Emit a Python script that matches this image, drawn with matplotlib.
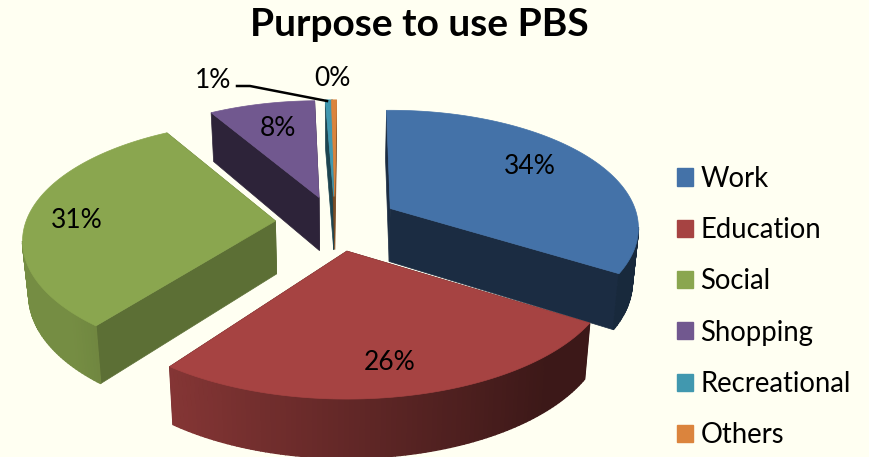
'''
Purpose to use PBS - exploded 3D style pie
'''
import numpy as np
import matplotlib
matplotlib.use('Agg')
import matplotlib.pyplot as plt
from matplotlib.patches import Patch

title = 'Purpose to use PBS'
categories = ['Work', 'Education', 'Social', 'Shopping', 'Recreational', 'Others']
shares = [33.95, 25.9, 30.9, 8.2, 0.55, 0.4]
colors = ['#4472a8', '#a64342', '#8aa64f', '#71588f', '#4198af', '#db843d']

# projection settings, in pixels
CX, CY = 335, 223
RX, RY = 250, 117
PERSP = 0.17
DEPTH = 53
BOTTOM_SCALE = 0.98
BG = '#fffff2'

# how far each slice is pulled out of the pie
explode = [0.255, 0.235, 0.235, 0.235, 0.235, 0.235]
# brightness of the flat side walls per slice
side_shade = [0.39, 0.37, 0.67, 0.40, 0.45, 0.55]
# small turn per slice (degrees), the 3D view bends the slices a bit
turn = [-1, 0, 3, 2.2, 1.1, 0.5]
# slices go back to front
draw_order = [3, 4, 5, 2, 0, 1]
label_pos = [(530, 167), (390, 363), (77, 221), (278, 128), (213, 81), (332, 79)]


def project(u, v, shift=0.0):
    # shift moves the point where perspective is measured, used for exploded slices
    s = 1 / (1 + PERSP * (v + shift))
    return RX * u * s, -RY * v * s


def drop(x, y, v):
    # bottom face point under a top face point
    s = 1 / (1 + PERSP * v)
    return CX + (x - CX) * BOTTOM_SCALE, y + DEPTH * s ** 0.6


def shade(color, f):
    return tuple(c * f for c in matplotlib.colors.to_rgb(color))


def wall_shade(theta):
    return float(np.clip(0.8 - (np.sin(theta) + 0.588) * 0.35, 0.36, 0.85))


def draw_slice(ax, start, end, color, side, pull):
    mid = (start + end) / 2
    eu, ev = pull * np.sin(mid), pull * np.cos(mid)
    ex, ey = project(eu, ev)
    ax_x, ax_y = CX + ex * 1.02, CY + ey

    thetas = np.linspace(start, end, max(3, int((end - start) * 60)))
    rim = []
    for t in thetas:
        dx, dy = project(np.sin(t), np.cos(t), ev)
        rim.append((ax_x + dx, ax_y + dy, np.cos(t)))

    # the two flat walls
    for x, y, v in (rim[0], rim[-1]):
        bx0, by0 = drop(ax_x, ax_y, 0)
        bx1, by1 = drop(x, y, v)
        ax.fill([ax_x, x, bx1, bx0], [ax_y, y, by1, by0],
                color=shade(color, side), lw=0.5, zorder=1)

    # outer curved wall, only where it faces the viewer
    for i in range(len(rim) - 1):
        x0, y0, v0 = rim[i]
        x1, y1, v1 = rim[i + 1]
        if x1 >= x0:
            continue
        bx0, by0 = drop(x0, y0, v0)
        bx1, by1 = drop(x1, y1, v1)
        f = wall_shade((thetas[i] + thetas[i + 1]) / 2)
        c = shade(color, f)
        ax.fill([x0, x1, bx1, bx0], [y0, y1, by1, by0], color=c, lw=1.0, zorder=1)

    # top face
    xs = [ax_x] + [p[0] for p in rim]
    ys = [ax_y] + [p[1] for p in rim]
    ax.fill(xs, ys, color=color, lw=0.5, zorder=2)


fig = plt.figure(figsize=(8.69, 4.57), dpi=100, facecolor=BG)
ax = fig.add_axes([0, 0, 1, 1])
ax.set_xlim(0, 869)
ax.set_ylim(457, 0)
ax.axis('off')

plt.rcParams['font.family'] = ['Lato', 'DejaVu Sans']

# angles of every slice, clockwise from twelve o'clock
total = sum(shares)
edges = 2 * np.pi * np.cumsum([0] + shares) / total

for i in draw_order:
    r = np.radians(turn[i])
    draw_slice(ax, edges[i] + r, edges[i + 1] + r, colors[i], side_shade[i], explode[i])

for i in range(len(shares)):
    x, y = label_pos[i]
    ax.text(x, y, '%d%%' % round(shares[i]), fontsize=19, color='black',
            ha='center', va='center', zorder=5)

# leader line of the 1% label
ax.plot([237, 250, 327], [86, 86, 101], color='black', lw=1.8, zorder=4)

fig.text(419 / 869, 1 - 25 / 457, title, fontsize=28, fontweight='bold',
         ha='center', va='center')

handles = [Patch(facecolor=c, edgecolor=c, label=n) for c, n in zip(colors, categories)]
ax.legend(handles=handles, loc='center left', bbox_to_anchor=(677 / 869, 1 - 307 / 457),
          frameon=False, fontsize=19.8, handlelength=0.58, handleheight=0.58,
          labelspacing=0.92, handletextpad=0.27, borderpad=0, borderaxespad=0)

fig.savefig('out.png', dpi=100, facecolor=BG)
